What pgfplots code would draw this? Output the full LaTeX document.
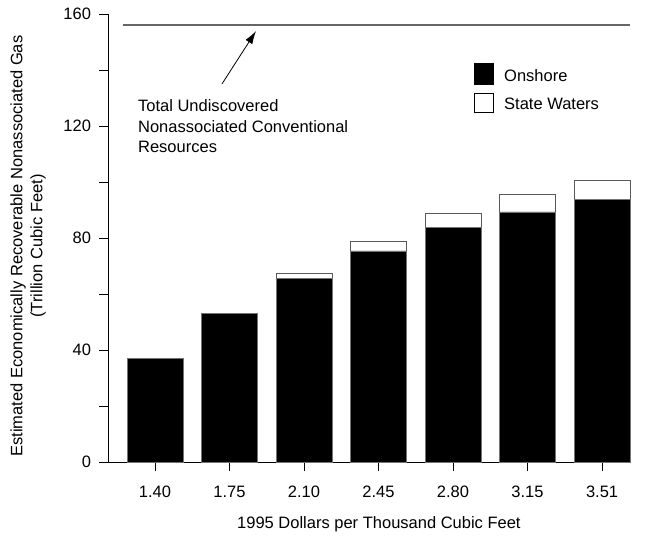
\documentclass[border=0pt]{standalone}
\usepackage{fontspec}
\setmainfont{Liberation Sans}
\usepackage{pgfplots}
\pgfplotsset{compat=1.18}
\usetikzlibrary{arrows.meta}
\newcommand\f{\fontsize{16.5}{20}\selectfont}
\begin{document}
\begin{tikzpicture}
\begin{axis}[name=ax, width=522pt, height=448pt, scale only axis,
  xmin=-0.63, xmax=6.375, ymin=0, ymax=160,
  axis x line*=bottom, axis y line*=left,
  axis line style={-, line width=0.8pt, black},
  xtick={0,...,6}, xticklabels={1.40,1.75,2.10,2.45,2.80,3.15,3.51},
  ytick={0,20,...,160}, yticklabels={0,,40,,80,,120,,160},
  tick align=outside, major tick length=9pt,
  tick style={black, line width=0.8pt},
  xticklabel style={font=\f, text height=12pt, text depth=0pt, yshift=-10.5pt},
  yticklabel style={font=\f, xshift=-4.5pt},
  /pgf/number format/assume math mode=true,
  xlabel={1995 Dollars per Thousand Cubic Feet},
  xlabel style={font=\f, at={(axis description cs:0.519,0)}, anchor=base, yshift=-66pt},
  ylabel={Estimated Economically Recoverable Nonassociated Gas\\(Trillion Cubic Feet)},
  ylabel style={font=\f, align=center, at={(axis description cs:-0.153,0.482)}, anchor=center},
  ybar stacked, bar width=0.75,
  clip=false,
]
\addplot[fill=black, draw=black!55, line width=0.7pt] coordinates {(0,37.1) (1,53.2) (2,65.7) (3,75.4) (4,83.9) (5,89.3) (6,93.9)};
\addplot[fill=white, draw=black!65, line width=0.7pt] coordinates {(0,0) (1,0) (2,1.8) (3,3.5) (4,5.0) (5,6.4) (6,6.8)};
\addplot[stack plots=false, sharp plot, draw=black!60, line width=1.2pt, forget plot] coordinates {(-0.43,156.1) (6.375,156.1)};
% x-axis extension to the left
\draw[line width=0.8pt] (rel axis cs:0,0) -- ++(-9pt,0);
% arrow and annotation
\draw[-{Latex[length=13pt,width=8pt]}, line width=0.8pt] (axis cs:0.899,135) -- (axis cs:1.356,153.9);
\node[anchor=base west, font=\f, inner sep=0pt] at (axis cs:-0.228,125) {Total Undiscovered};
\node[anchor=base west, font=\f, inner sep=0pt] at (axis cs:-0.228,117.7) {Nonassociated Conventional};
\node[anchor=base west, font=\f, inner sep=0pt] at (axis cs:-0.228,110.4) {Resources};
% legend
\draw[fill=black, draw=black, line width=0.6pt] (axis description cs:0.7011,0.8906) rectangle (axis description cs:0.7375,0.8438);
\draw[fill=white, draw=black, line width=0.6pt] (axis description cs:0.7011,0.8237) rectangle (axis description cs:0.7375,0.78125);
\node[anchor=base west, font=\f, inner sep=0pt] at (axis description cs:0.7586,0.8482) {Onshore};
\node[anchor=base west, font=\f, inner sep=0pt] at (axis description cs:0.7586,0.7857) {State Waters};
\end{axis}
\path (ax.south west) ++(-108pt,-77pt);
\path (ax.north east) ++(16pt,14pt);
\end{tikzpicture}
\end{document}
